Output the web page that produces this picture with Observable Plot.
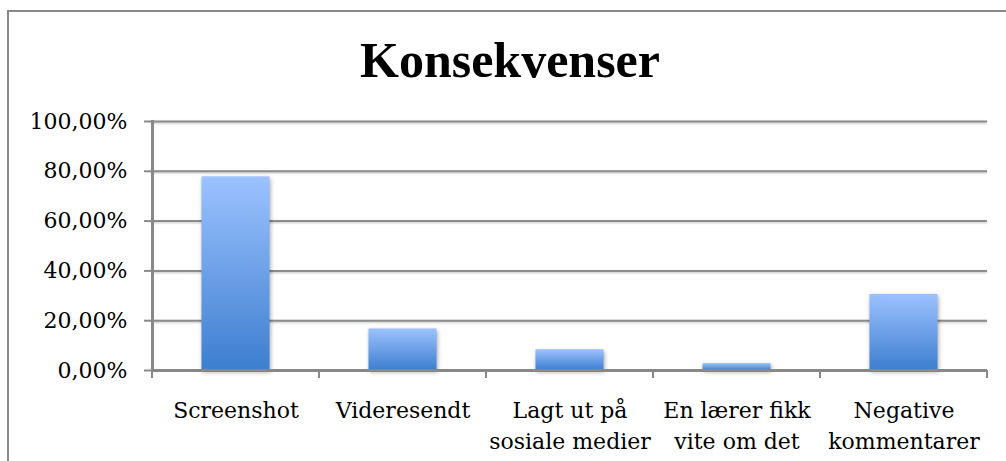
<!DOCTYPE html>
<html>
<head>
<meta charset="utf-8">
<script src="https://cdn.jsdelivr.net/npm/d3@7"></script>
<script src="https://cdn.jsdelivr.net/npm/@observablehq/plot@0.6"></script>
<style>
  html, body { margin: 0; padding: 0; background: #fff; }
  #wrap { position: relative; width: 1006px; height: 461px; overflow: hidden; }
  #frame { position: absolute; left: 7px; top: 10px; width: 1100px; height: 600px;
           border-top: 2px solid #888; border-left: 2px solid #888; box-sizing: border-box; }
  #title { position: relative; height: 100px; box-sizing: border-box; padding-top: 35px; padding-left: 14px;
           text-align: center; font-family: "Liberation Serif", serif; font-weight: bold;
           font-size: 50px; line-height: 50px; color: #000; }
  #chart { position: relative; }
  #chart g[aria-label="bar"] rect { filter: drop-shadow(1px 2px 2px rgba(0,0,0,0.35)); }
  #chart g[aria-label="y-grid"] line { filter: drop-shadow(0px 1px 1px rgba(0,0,0,0.25)); }
</style>
</head>
<body>
<div id="wrap">
  <div id="frame"></div>
  <div id="title">Konsekvenser</div>
  <div id="chart"></div>
</div>
<script>
const categories = ["Screenshot", "Videresendt", "Lagt ut på\nsosiale medier", "En lærer fikk\nvite om det", "Negative\nkommentarer"];
const values = [77.78, 16.67, 8.33, 2.78, 30.56];
const yTicks = [0, 20, 40, 60, 80, 100];

const data = categories.map((c, i) => ({category: c, value: values[i]}));
const fmt = d => d.toFixed(2).replace(".", ",") + "%";
const gray = "#888";

const boundaryTicks = Plot.ruleX(categories, {
  x: d => d,
  render: (index, scales, vals, dims) => {
    const xs = Array.from(index, i => vals.x[i]);
    const step = xs[1] - xs[0];
    xs.push(xs[xs.length - 1] + step);
    const yb = dims.height - dims.marginBottom;
    const g = d3.create("svg:g").attr("aria-label", "x-boundary-ticks");
    g.selectAll("line").data(xs).join("line")
      .attr("x1", d => d).attr("x2", d => d)
      .attr("y1", yb).attr("y2", yb + 8)
      .attr("stroke", gray).attr("stroke-width", 2);
    return g.node();
  }
});

const chart = Plot.plot({
  width: 1006,
  height: 361,
  marginTop: 21,
  marginBottom: 91,
  marginLeft: 152,
  marginRight: 19,
  style: {fontFamily: "DejaVu Serif", fontSize: "22px", color: "#000", background: "transparent"},
  x: {domain: categories, paddingInner: 0, paddingOuter: 0, label: null},
  y: {domain: [0, 100], label: null},
  marks: [
    Plot.gridY(yTicks.filter(d => d > 0), {stroke: "#8c8c8c", strokeOpacity: 1, strokeWidth: 2}),
    Plot.barY(data, {x: "category", y: "value", fill: "url(#barGrad)", insetLeft: 49.5, insetRight: 49.5}),
    Plot.ruleY([0], {stroke: gray, strokeWidth: 3}),
    Plot.frame({anchor: "left", stroke: gray, strokeWidth: 3}),
    boundaryTicks,
    Plot.axisY(yTicks, {tickFormat: fmt, tickSize: 8, tickPadding: 17, stroke: gray, strokeWidth: 2,
      fontSize: 22, fontFamily: "DejaVu Serif", fill: "#000", label: null}),
    Plot.axisX({tickSize: 0, tickPadding: 25, lineHeight: 1.41, fontSize: 22, fontFamily: "DejaVu Serif",
      fill: "#000", label: null})
  ]
});

const defs = d3.select(chart).insert("defs", ":first-child");
const grad = defs.append("linearGradient").attr("id", "barGrad")
  .attr("x1", 0).attr("y1", 0).attr("x2", 0).attr("y2", 1);
grad.append("stop").attr("offset", "0%").attr("stop-color", "#9cc2ff");
grad.append("stop").attr("offset", "100%").attr("stop-color", "#3d7ecf");

document.getElementById("chart").appendChild(chart);
</script>
</body>
</html>
